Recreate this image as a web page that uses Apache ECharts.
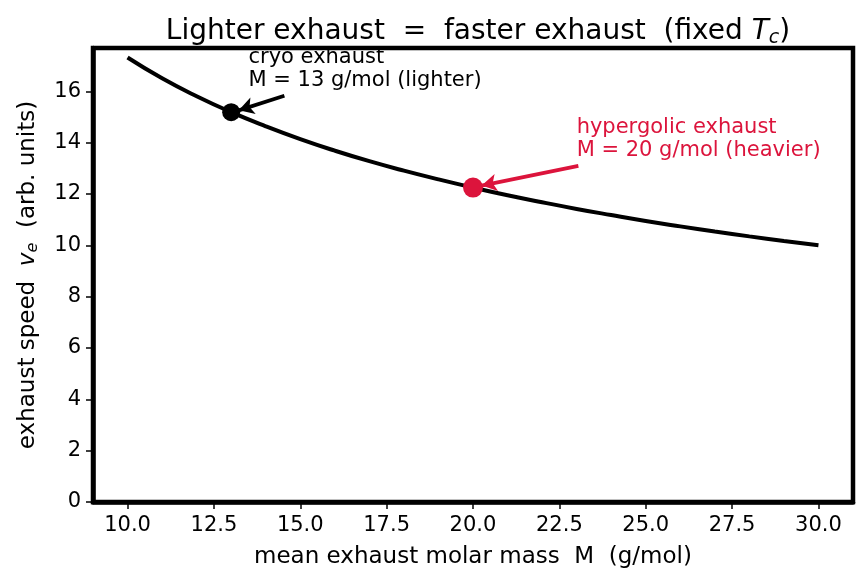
<!DOCTYPE html>
<html>
<head>
<meta charset="utf-8">
<script src="https://cdn.jsdelivr.net/npm/echarts@6/dist/echarts.min.js"></script>
<style>
  html, body { margin: 0; padding: 0; background: #fff; }
  #chart { width: 865px; height: 583px; }
</style>
</head>
<body>
<div id="chart"></div>
<script>
// molar mass (g/mol) and exhaust speed
var massM = [10, 11, 12, 13, 14, 15, 16, 17, 18, 19, 20, 21, 22, 23, 24, 25, 26, 27, 28, 29, 30];
var speedV = [17.32, 16.51, 15.81, 15.19, 14.64, 14.14, 13.69, 13.28, 12.91, 12.57, 12.25,
              11.95, 11.68, 11.42, 11.18, 10.95, 10.74, 10.54, 10.35, 10.17, 10.00];
var cryoPoint = [13, 15.19];
var hyperPoint = [20, 12.25];
var xTicks = [10.0, 12.5, 15.0, 17.5, 20.0, 22.5, 25.0, 27.5, 30.0];
var yTicks = [0, 2, 4, 6, 8, 10, 12, 14, 16];
var red = '#dc143c';
var font = 'DejaVu Sans';

(function () {
    var myChart = echarts.init(document.getElementById('chart'));
    var curve = massM.map(function (m, i) { return [m, speedV[i]]; });
    var option = {
        animation: false,
        title: {
            text: 'Lighter exhaust  =  faster exhaust  (fixed {i|T}{s|c})',
            left: 473, top: 10, textAlign: 'center',
            textStyle: {
                fontFamily: font, fontSize: 28, fontWeight: 'normal', color: '#000',
                rich: {
                    i: { fontFamily: font, fontSize: 28, fontStyle: 'italic', color: '#000' },
                    s: { fontFamily: font, fontSize: 19, fontStyle: 'italic', color: '#000', padding: [14, 0, 0, 0] }
                }
            }
        },
        grid: { left: 93, right: 12, top: 48, bottom: 81, show: true, borderColor: '#000', borderWidth: 4.5 },
        xAxis: {
            type: 'value', min: 9, max: 31,
            name: 'mean exhaust molar mass  M  (g/mol)', nameLocation: 'middle', nameGap: 44,
            nameTextStyle: { fontFamily: font, fontSize: 23, color: '#000' },
            axisLine: { show: true, lineStyle: { color: '#000', width: 4.5 } },
            axisTick: { show: true, length: 7, lineStyle: { color: '#000', width: 1.5 }, customValues: xTicks },
            axisLabel: { fontFamily: font, fontSize: 21, color: '#000', margin: 13, customValues: xTicks,
                         formatter: function (v) { return v.toFixed(1); } },
            splitLine: { show: false }
        },
        yAxis: {
            type: 'value', min: 0, max: 17.69,
            name: 'exhaust speed  {i|v}{s|e}  (arb. units)', nameLocation: 'middle', nameGap: 52,
            nameTextStyle: { fontFamily: font, fontSize: 23, color: '#000',
                rich: {
                    i: { fontFamily: font, fontSize: 23, fontStyle: 'italic', color: '#000' },
                    s: { fontFamily: font, fontSize: 16, fontStyle: 'italic', color: '#000', padding: [10, 0, 0, 0] }
                } },
            axisLine: { show: true, lineStyle: { color: '#000', width: 4.5 } },
            axisTick: { show: true, length: 7, lineStyle: { color: '#000', width: 1.5 }, customValues: yTicks },
            axisLabel: { fontFamily: font, fontSize: 21, color: '#000', margin: 12, customValues: yTicks },
            splitLine: { show: false }
        },
        series: [
            {
                type: 'line', data: curve, showSymbol: false, smooth: true,
                lineStyle: { color: '#000', width: 4 }, z: 2,
                markLine: {
                    silent: true, symbol: ['none', 'arrow'], symbolSize: [13, 15],
                    label: { show: false },
                    data: [
                        [{ coord: [14.54, 15.83], lineStyle: { color: '#000', width: 3.8, type: 'solid' } }, { coord: [13.22, 15.26] }],
                        [{ coord: [23.05, 13.10], lineStyle: { color: red, width: 3.8, type: 'solid' } }, { coord: [20.25, 12.33] }]
                    ]
                }
            },
            {
                type: 'scatter', data: [cryoPoint], symbolSize: 18,
                itemStyle: { color: '#000', opacity: 1 }, z: 3
            },
            {
                type: 'scatter', data: [hyperPoint], symbolSize: 20,
                itemStyle: { color: red, opacity: 1 }, z: 3
            }
        ]
    };
    myChart.setOption(option);

    // annotation text, anchored in data coordinates (first line centre)
    var p1 = myChart.convertToPixel({ gridIndex: 0 }, [13.5, 17.31]);
    var p2 = myChart.convertToPixel({ gridIndex: 0 }, [23.0, 14.58]);
    myChart.setOption({
        graphic: [
            { type: 'text', x: p1[0], y: p1[1] - 11.5, z: 10,
              style: { text: 'cryo exhaust\nM = 13 g/mol (lighter)', fill: '#000', font: '21px "DejaVu Sans"', lineHeight: 23, verticalAlign: 'top' } },
            { type: 'text', x: p2[0], y: p2[1] - 11.5, z: 10,
              style: { text: 'hypergolic exhaust\nM = 20 g/mol (heavier)', fill: red, font: '21px "DejaVu Sans"', lineHeight: 23, verticalAlign: 'top' } }
        ]
    });
})();
</script>
</body>
</html>
